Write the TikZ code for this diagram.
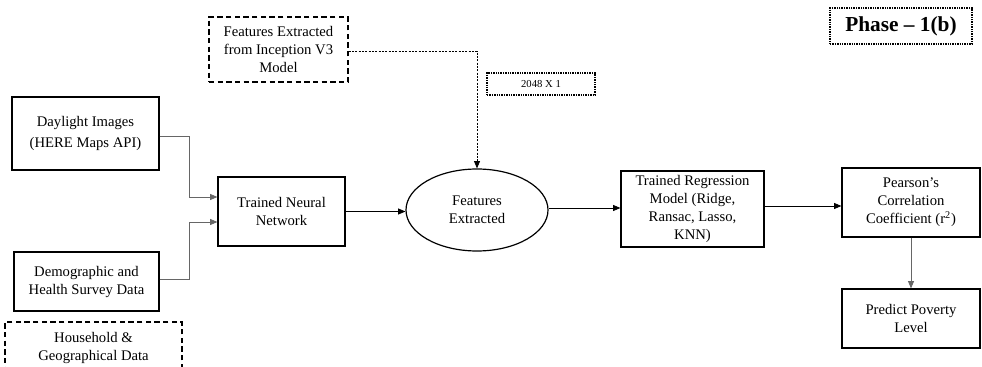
\documentclass[tikz,border=0pt]{standalone}
\usepackage{fontspec}
\setmainfont{Liberation Serif}
\usetikzlibrary{arrows.meta,shapes.geometric,calc}
\begin{document}
\begin{tikzpicture}[x=0.75pt,y=-0.75pt,
  txt/.style={font=\fontsize{11}{13.5}\selectfont, align=center, inner sep=0pt},
  solidbox/.style={txt, draw=black, line width=0.9pt, rectangle},
  dashbox/.style={txt, draw=black, line width=0.9pt, dash pattern=on 4pt off 2.5pt, rectangle},
  dotbox/.style={txt, draw=black, line width=0.9pt, dash pattern=on 1pt off 0.8pt, rectangle},
  ellnode/.style={txt, draw=black, line width=0.9pt, ellipse},
  conn/.style={line width=0.6pt, -{Triangle[length=5.5pt,width=4.5pt]}},
  grayconn/.style={conn, draw=black!60},
  dotconn/.style={conn, dash pattern=on 1.5pt off 1pt}
]
\useasboundingbox (0,0) rectangle (982,367);

\node[solidbox, minimum width=110.25pt, minimum height=54.75pt] (day) at (85.5,133.5) {Daylight Images\\[2pt](HERE Maps API)};
\node[solidbox, minimum width=108.75pt, minimum height=44.25pt] (demo) at (86.5,281.5) {Demographic and\\Health Survey Data};
\node[dashbox, minimum width=132.75pt, minimum height=39pt] (house) at (93.5,348) {Household \&\\Geographical Data};
\node[dashbox, minimum width=104.25pt, minimum height=48.75pt] (feat3) at (278.5,49.5) {Features Extracted\\from Inception V3\\Model};
\node[dotbox, minimum width=81pt, minimum height=16.5pt, font=\fontsize{8}{9}\selectfont] (dim) at (541,84) {2048 X 1};
\node[solidbox, minimum width=95.25pt, minimum height=51.75pt] (tnn) at (281.5,211.5) {Trained Neural\\Network};
\node[ellnode, minimum width=106.5pt, minimum height=61.5pt] (ell) at (477,210) {Features\\Extracted};
\node[solidbox, minimum width=107.25pt, minimum height=57pt] (reg) at (692.5,209) {Trained Regression\\Model (Ridge,\\Ransac, Lasso,\\KNN)};
\node[solidbox, minimum width=103.5pt, minimum height=51.75pt] (pear) at (911,202.5) {Pearson’s\\Correlation\\Coefficient (r\textsuperscript{2})};
\node[solidbox, minimum width=103.5pt, minimum height=44.25pt] (pred) at (911,318.5) {Predict Poverty\\Level};
\node[dotbox, minimum width=106.5pt, minimum height=27pt, font=\fontsize{16}{18}\selectfont\bfseries] (phase) at (901,26) {Phase -- 1(b)};

\draw[grayconn] ($(day.east)+(0,2.5)$) -| (189,197) -- ($(tnn.west)+(0,-14.5)$);
\draw[grayconn] ($(demo.east)+(0,-2.5)$) -| (189,222) -- ($(tnn.west)+(0,10.5)$);
\draw[conn] (tnn.east) -- (tnn.east -| ell.west);
\draw[conn] ($(ell.east)+(0,-2)$) -- ($(ell.east -| reg.west)+(0,-2)$);
\draw[conn] ($(reg.east)+(0,-3)$) -- ($(reg.east -| pear.west)+(0,-3)$);
\draw[grayconn] (pear.south) -- (pred.north);
\draw[dotconn] ($(feat3.east)+(0,1.5)$) -| (ell.north);
\end{tikzpicture}
\end{document}
